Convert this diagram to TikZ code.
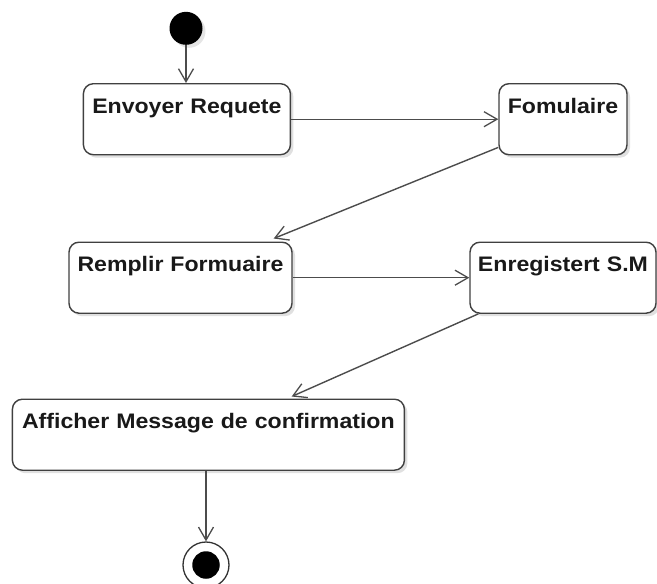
\documentclass[tikz,border=0pt]{standalone}
\usepackage{fontspec}
\setmainfont{Liberation Sans}[FakeStretch=1.1]
\usetikzlibrary{arrows.meta,shadows}

\begin{document}
\begin{tikzpicture}[x=1pt,y=-1pt,
  activity/.style={draw=black!75, line width=1.4pt, rounded corners=10pt,
    fill=white, inner sep=0pt, text height=29.5pt, text depth=41.5pt,
    align=center, font=\fontsize{21}{25}\selectfont\bfseries, text=black!90,
    anchor=north west,
    drop shadow={shadow xshift=3pt, shadow yshift=-3pt, opacity=0.12, fill=black}},
  flow/.style={draw=black!70, line width=1.4pt,
    -{Straight Barb[length=13pt,width=15pt,line width=1.3pt]}},
  startdot/.style={circle, fill=black, inner sep=0pt, minimum size=33pt,
    drop shadow={shadow xshift=3pt, shadow yshift=-3pt, opacity=0.10, fill=black}},
  endring/.style={circle, draw=black!80, line width=1.3pt, fill=white,
    inner sep=0pt, minimum size=46pt},
  enddot/.style={circle, fill=black, inner sep=0pt, minimum size=27.5pt},
]
\useasboundingbox (0,0) rectangle (657,584);

% initial state
\node[startdot] (start) at (186,28.3) {};

% activities
\node[activity, text width=207pt] (send) at (82.7,83) {Envoyer Requete};
\node[activity, text width=128pt] (form) at (498.3,83) {Fomulaire};
\node[activity, text width=223pt] (fill) at (68.3,241.5) {Remplir Formuaire};
\node[activity, text width=186pt] (save) at (469.3,241.5) {Enregistert S.M};
\node[activity, text width=392pt] (confirm) at (11.7,398.5) {Afficher Message de confirmation};

% final state
\node[endring] (stop) at (206,565) {};
\node[enddot] (stopdot) at (stop) {};

% transitions
\draw[flow] (start.south) -- (start.south |- send.north);
\draw[flow] (send.east) -- (form.west);
\draw[flow] ([yshift=8pt]form.south west) -- ([xshift=-19pt,yshift=3pt]fill.north east);
\draw[flow] (fill.east) -- (save.west);
\draw[flow] ([xshift=9pt]save.south west) -- ([xshift=280pt,yshift=2pt]confirm.north west);
\draw[flow] (confirm.south -| stop) -- (stop.north);
\end{tikzpicture}
\end{document}
